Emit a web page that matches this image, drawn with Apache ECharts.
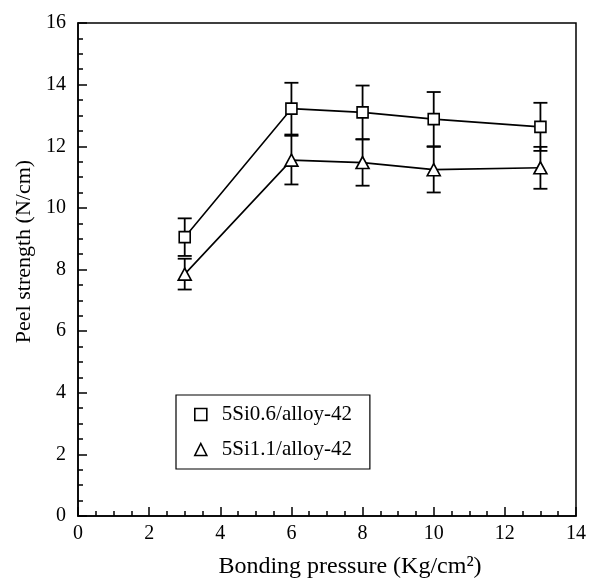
<!DOCTYPE html>
<html>
<head>
<meta charset="utf-8">
<script src="https://cdn.jsdelivr.net/npm/echarts@6/dist/echarts.min.js"></script>
<style>
html,body{margin:0;padding:0;background:#fff;}
#chart{width:592px;height:584px;}
</style>
</head>
<body>
<div id="chart"></div>
<script>
// ---- data ----
const pressure = [3, 6, 8, 10, 13];
const seriesNames = ['5Si0.6/alloy-42', '5Si1.1/alloy-42'];
const peelSi06 = [9.05, 13.22, 13.10, 12.88, 12.63];
const errSi06 = [0.61, 0.84, 0.87, 0.88, 0.78];
const peelSi11 = [7.85, 11.55, 11.47, 11.24, 11.30];
const errSi11 = [0.50, 0.79, 0.75, 0.74, 0.68];
const xTicks = [0, 2, 4, 6, 8, 10, 12, 14];
const yTicks = [0, 2, 4, 6, 8, 10, 12, 14, 16];

const FONT = 'Liberation Serif';
const chart = echarts.init(document.getElementById('chart'), null, {renderer: 'canvas'});

function pairs(xs, ys) { return xs.map((x, i) => [x, ys[i]]); }
function errData(xs, ys, es) { return xs.map((x, i) => [x, ys[i] - es[i], ys[i] + es[i]]); }

function errRender(params, api) {
  const x = api.value(0);
  const lo = api.coord([x, api.value(1)]);
  const hi = api.coord([x, api.value(2)]);
  const hw = 7;
  const st = {stroke: '#000', lineWidth: 1.8};
  return {
    type: 'group',
    children: [
      {type: 'line', shape: {x1: lo[0], y1: lo[1], x2: hi[0], y2: hi[1]}, style: st},
      {type: 'line', shape: {x1: lo[0] - hw, y1: lo[1], x2: lo[0] + hw, y2: lo[1]}, style: st},
      {type: 'line', shape: {x1: hi[0] - hw, y1: hi[1], x2: hi[0] + hw, y2: hi[1]}, style: st}
    ]
  };
}

const markerStyle = {color: '#fff', borderColor: '#000', borderWidth: 1.6};

const option = {
  animation: false,
  backgroundColor: '#fff',
  grid: {left: 78, right: 16, top: 23, bottom: 61, show: true, borderColor: '#000', borderWidth: 1.5, backgroundColor: 'transparent'},
  legend: {
    orient: 'vertical',
    left: 176, top: 395,
    padding: [9, 18, 9, 18],
    itemGap: 14,
    itemWidth: 12, itemHeight: 12,
    borderColor: '#000', borderWidth: 1.2,
    backgroundColor: '#fff',
    textStyle: {fontFamily: FONT, fontSize: 21, color: '#000', padding: [0, 0, 0, 10]},
    data: [
      {name: seriesNames[0], icon: 'rect', itemStyle: {color: '#fff', borderColor: '#000', borderWidth: 1.6}},
      {name: seriesNames[1], icon: 'triangle', itemStyle: {color: '#fff', borderColor: '#000', borderWidth: 1.6}}
    ]
  },
  xAxis: {
    type: 'value', min: xTicks[0], max: xTicks[xTicks.length - 1], interval: 2,
    name: 'Bonding pressure (Kg/cm²)', nameLocation: 'middle', nameGap: 39,
    nameTextStyle: {fontFamily: FONT, fontSize: 24, color: '#000', padding: [0, 0, 0, 46]},
    axisLine: {show: true, lineStyle: {color: '#000', width: 1.5}},
    axisTick: {show: true, inside: true, length: 9, lineStyle: {color: '#000', width: 1.5}},
    minorTick: {show: true, splitNumber: 4, length: 5, lineStyle: {color: '#000', width: 1.5}},
    axisLabel: {fontFamily: FONT, fontSize: 20, color: '#000', margin: 8},
    splitLine: {show: false}
  },
  yAxis: {
    type: 'value', min: yTicks[0], max: yTicks[yTicks.length - 1], interval: 2,
    name: 'Peel strength (N/cm)', nameLocation: 'middle', nameGap: 36,
    nameTextStyle: {fontFamily: FONT, fontSize: 22, color: '#000', padding: [0, 0, 0, 36]},
    axisLine: {show: true, lineStyle: {color: '#000', width: 1.5}},
    axisTick: {show: true, inside: true, length: 9, lineStyle: {color: '#000', width: 1.5}},
    minorTick: {show: true, splitNumber: 4, length: 5, lineStyle: {color: '#000', width: 1.5}},
    axisLabel: {fontFamily: FONT, fontSize: 20, color: '#000', margin: 12},
    splitLine: {show: false}
  },
  series: [
    {type: 'custom', name: 'err06', renderItem: errRender, data: errData(pressure, peelSi06, errSi06), z: 1, silent: true},
    {type: 'custom', name: 'err11', renderItem: errRender, data: errData(pressure, peelSi11, errSi11), z: 1, silent: true},
    {
      type: 'line', name: seriesNames[0], data: pairs(pressure, peelSi06), z: 3,
      symbol: 'rect', symbolSize: 11, showAllSymbol: true,
      lineStyle: {color: '#000', width: 1.6}, itemStyle: markerStyle
    },
    {
      type: 'line', name: seriesNames[1], data: pairs(pressure, peelSi11), z: 3,
      symbol: 'triangle', symbolSize: [13, 12], showAllSymbol: true,
      lineStyle: {color: '#000', width: 1.6}, itemStyle: markerStyle
    }
  ]
};
chart.setOption(option);
</script>
</body>
</html>
